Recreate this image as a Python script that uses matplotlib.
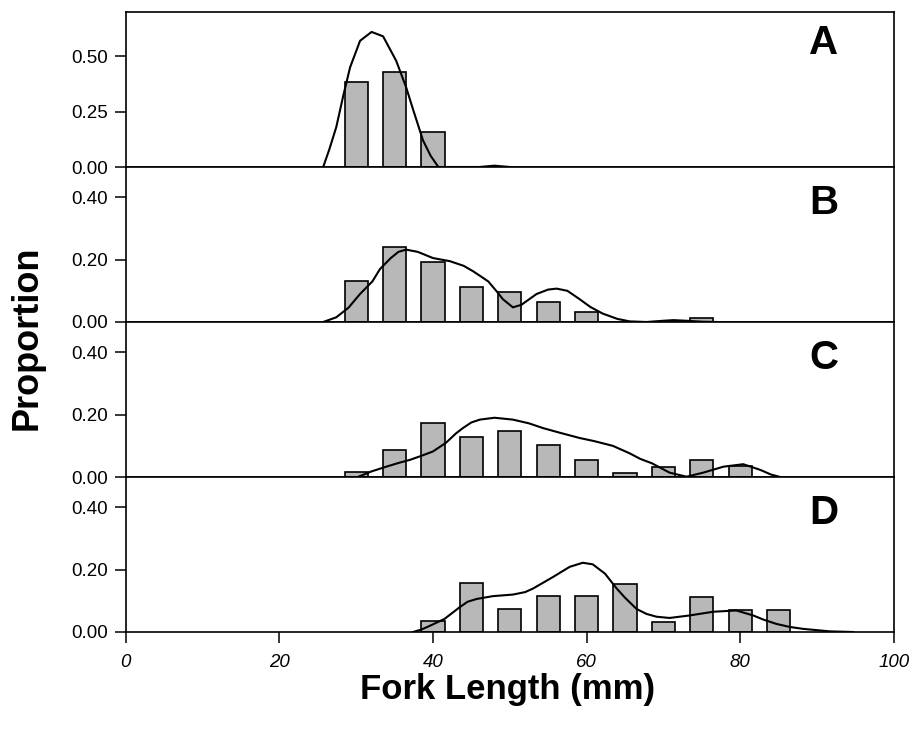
import matplotlib
matplotlib.use("Agg")
import matplotlib.pyplot as plt

plt.rcParams['font.family'] = ['Liberation Sans', 'DejaVu Sans']

# ---- data ----
panel_labels = ["A", "B", "C", "D"]

bins_A = [30, 35, 40]
prop_A = [0.385, 0.427, 0.160]
curve_A_x = [25.7, 26.5, 27.4, 28.3, 29.2, 30.5, 32.0, 33.5, 35.2, 36.5, 37.4, 38.7, 39.7, 40.7, 46.0, 48.0, 50.0]
curve_A_y = [0.0, 0.08, 0.18, 0.32, 0.45, 0.57, 0.61, 0.59, 0.48, 0.36, 0.26, 0.12, 0.05, 0.0, 0.0, 0.006, 0.0]

bins_B = [30, 35, 40, 45, 50, 55, 60, 75]
prop_B = [0.133, 0.239, 0.191, 0.112, 0.095, 0.065, 0.031, 0.014]
curve_B_x = [25.7, 27.4, 29.0, 30.5, 32.1, 33.1, 34.5, 35.5, 36.5, 38.0, 40.0, 42.2, 44.0, 45.2, 46.3,
             47.2, 48.3, 49.1, 50.4, 51.5, 53.5, 55.0, 56.1, 57.5, 59.1, 60.5, 62.1, 64.0, 65.6, 67.8,
             70.0, 71.3, 73.0, 75.0, 77.0]
curve_B_y = [0.0, 0.015, 0.046, 0.09, 0.13, 0.17, 0.205, 0.225, 0.232, 0.225, 0.205, 0.195, 0.18, 0.163, 0.145,
             0.13, 0.098, 0.073, 0.047, 0.055, 0.09, 0.104, 0.107, 0.10, 0.073, 0.048, 0.027, 0.01, 0.002, 0.0,
             0.004, 0.006, 0.004, 0.001, 0.0]

bins_C = [30, 35, 40, 45, 50, 55, 60, 65, 70, 75, 80]
prop_C = [0.017, 0.085, 0.173, 0.128, 0.149, 0.103, 0.055, 0.012, 0.033, 0.055, 0.035]
curve_C_x = [30.2, 32.0, 33.9, 35.5, 37.0, 38.5, 40.0, 41.7, 43.0, 43.9, 45.0, 46.1, 48.0, 50.4, 52.5,
             54.3, 56.5, 59.1, 61.0, 63.4, 65.6, 67.0, 68.5, 70.8, 73.0, 75.2, 77.8, 80.4, 82.6, 84.0, 85.2]
curve_C_y = [0.0, 0.018, 0.033, 0.045, 0.055, 0.068, 0.082, 0.11, 0.14, 0.157, 0.175, 0.184, 0.19, 0.184, 0.172,
             0.157, 0.142, 0.125, 0.115, 0.10, 0.076, 0.058, 0.044, 0.014, 0.001, 0.014, 0.033, 0.041, 0.023, 0.008, 0.0]

bins_D = [40, 45, 50, 55, 60, 65, 70, 75, 80, 85]
prop_D = [0.035, 0.157, 0.075, 0.114, 0.114, 0.153, 0.032, 0.112, 0.071, 0.071]
curve_D_x = [37.4, 38.5, 39.6, 41.5, 43.5, 44.5, 45.7, 47.8, 50.4, 52.0, 53.0, 55.6, 57.8, 59.5, 60.8,
             62.4, 63.9, 65.0, 66.5, 67.8, 69.1, 70.8, 73.4, 76.5, 79.5, 81.7, 83.0, 84.7, 86.5, 88.2, 91.7, 94.7]
curve_D_y = [0.0, 0.008, 0.02, 0.042, 0.08, 0.097, 0.106, 0.115, 0.12, 0.128, 0.139, 0.176, 0.209, 0.222, 0.217,
             0.187, 0.14, 0.11, 0.074, 0.058, 0.049, 0.045, 0.053, 0.065, 0.069, 0.053, 0.04, 0.026, 0.016, 0.01, 0.002, 0.0]

ylims = [0.70, 0.497, 0.497, 0.497]
yticks_A = [0.0, 0.25, 0.50]
yticks_other = [0.0, 0.20, 0.40]
xticks = [0, 20, 40, 60, 80, 100]

panels = [
    (bins_A, prop_A, curve_A_x, curve_A_y, yticks_A),
    (bins_B, prop_B, curve_B_x, curve_B_y, yticks_other),
    (bins_C, prop_C, curve_C_x, curve_C_y, yticks_other),
    (bins_D, prop_D, curve_D_x, curve_D_y, yticks_other),
]

fig = plt.figure(figsize=(9.12, 7.34), dpi=100)
left, width = 0.138, 0.842
h = 155 / 734
top = 1 - 12 / 734

for i, (bx, by, cx, cy, yt) in enumerate(panels):
    ax = fig.add_axes([left, top - (i + 1) * h, width, h])
    ax.bar(bx, by, width=3.0, color='#b8b8b8', edgecolor='black', linewidth=1.2, zorder=2)
    ax.plot(cx, cy, color='black', linewidth=1.5, zorder=3)
    ax.set_xlim(0, 100)
    ax.set_ylim(0, ylims[i])
    ax.set_yticks(yt)
    ax.set_yticklabels([f"{v:.2f}" for v in yt], fontsize=13.5)
    for s in ax.spines.values():
        s.set_linewidth(1.2)
    ax.tick_params(axis='y', direction='out', length=8, width=1.1, pad=5)
    ax.set_xticks(xticks)
    if i < 3:
        ax.tick_params(axis='x', bottom=False, labelbottom=False)
    else:
        ax.tick_params(axis='x', direction='out', length=8, width=1.1, pad=8)
        ax.set_xticklabels([str(v) for v in xticks], fontsize=13.5, style='italic')
    ax.text(92.8, ylims[i] * (0.80 if i == 0 else 0.77), panel_labels[i], ha='right', va='center',
            fontsize=29, fontweight='bold')

fig.text(0.030, 0.540, "Proportion", rotation=90, ha='center', va='center', fontsize=26, fontweight='bold')
fig.text(0.557, 0.060, "Fork Length (mm)", ha='center', va='center', fontsize=25, fontweight='bold')

fig.savefig("out.png", dpi=100)
